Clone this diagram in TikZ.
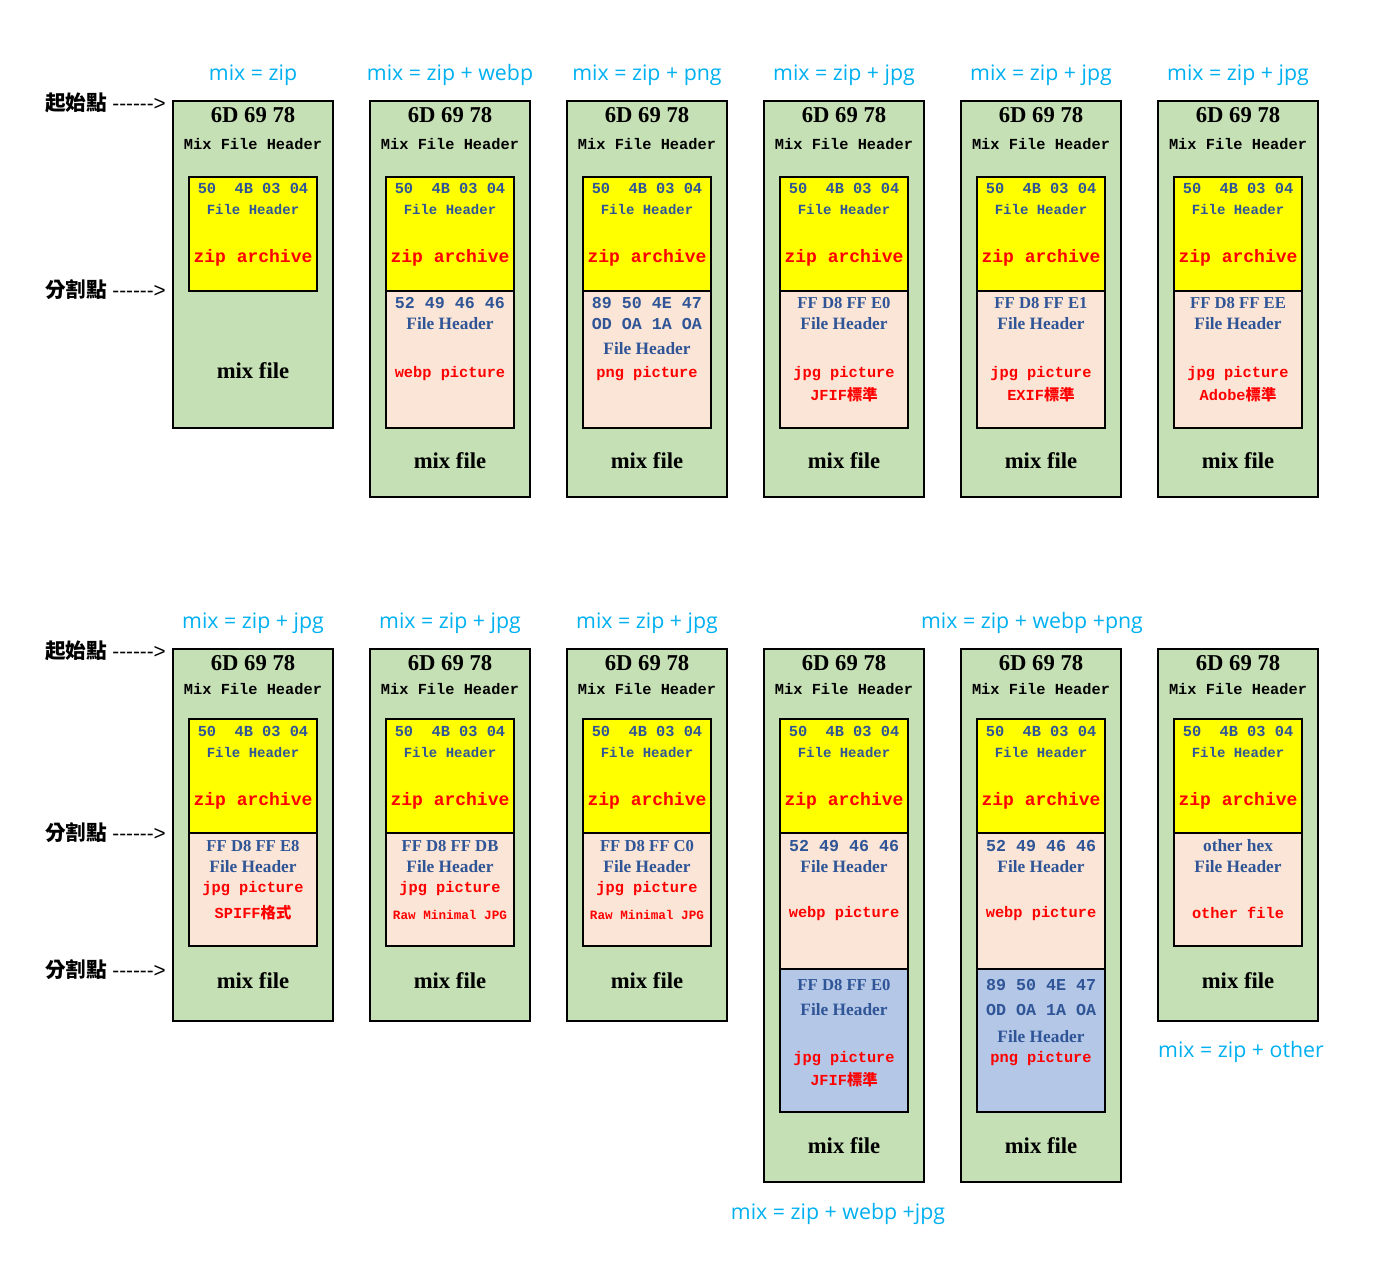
\documentclass[tikz,border=0pt]{standalone}
\usepackage{fontspec}
\setmainfont{Liberation Serif}
\setmonofont{Liberation Mono}
\setsansfont{Open Sans}
\newfontfamily\cjk{Noto Sans CJK TC}
\newfontfamily\dashfont{Liberation Sans}
\usepackage{tikz}

\definecolor{mixgreen}{HTML}{C5E0B4}
\definecolor{zipyellow}{HTML}{FFFF00}
\definecolor{picpink}{HTML}{FBE5D6}
\definecolor{picblue}{HTML}{B4C7E7}
\definecolor{hexblue}{HTML}{2F5597}
\definecolor{labelblue}{HTML}{00B0F0}

\tikzset{
    mixbox/.style={draw, line width=2.2pt, fill=mixgreen},
    zippart/.style={draw, line width=2.2pt, fill=zipyellow},
    pinkpart/.style={draw, line width=2.2pt, fill=picpink},
    bluepart/.style={draw, line width=2.2pt, fill=picblue},
    mixlabel/.style={text=labelblue, font=\sffamily\fontsize{16}{19}\selectfont},
    hextitle/.style={font=\bfseries\fontsize{17}{20}\selectfont},
    mixhead/.style={font=\ttfamily\bfseries\fontsize{11.5}{14}\selectfont},
    hexmono/.style={text=hexblue, font=\ttfamily\bfseries\fontsize{11.5}{14}\selectfont},
    hexwide/.style={text=hexblue, font=\ttfamily\bfseries\fontsize{12.5}{15}\selectfont},
    hexserif/.style={text=hexblue, font=\bfseries\fontsize{12.5}{15}\selectfont},
    fhmono/.style={text=hexblue, font=\ttfamily\bfseries\fontsize{10.5}{13}\selectfont},
    fhserif/.style={text=hexblue, font=\bfseries\fontsize{13}{15}\selectfont},
    zipname/.style={text=red, font=\ttfamily\bfseries\fontsize{13.5}{16}\selectfont},
    picname/.style={text=red, font=\ttfamily\bfseries\fontsize{11.5}{14}\selectfont},
    rawname/.style={text=red, font=\ttfamily\bfseries\fontsize{9.5}{11}\selectfont},
    mixfile/.style={font=\bfseries\fontsize{17}{20}\selectfont},
    pointtext/.style={anchor=west, inner sep=0pt, font=\fontsize{15.5}{18}\selectfont},
}

\begin{document}
\begin{tikzpicture}[x=0.75pt, y=-0.75pt]
    \useasboundingbox (0,0) rectangle (1399,1273);

    % top row
    \draw[mixbox] (173,101) rectangle (333,428);
    \foreach \x in {370,567,764,961,1158} {
        \draw[mixbox] (\x,101) rectangle ++(160,396);
        \draw[pinkpart] (\x+16,291) rectangle ++(128,137);
        \node[mixfile] at (\x+80,461) {mix file};
    }
    \foreach \x [count=\i] in {173,370,567,764,961,1158} {
        \draw[zippart] (\x+16,177) rectangle ++(128,114);
        \node[hextitle] (th\i) at (\x+80,115) {6D 69 78};
        \node[mixhead] (tm\i) at (\x+80,144) {Mix File Header};
        \node[hexmono] (tz\i) at (\x+80,188) {50~~4B 03 04};
        \node[fhmono] (tf\i) at (\x+80,209) {File Header};
        \node[zipname] (ta\i) at (\x+80,258) {zip archive};
    }
    \node[mixfile] (tmix1) at (253,371) {mix file};

    \node[mixlabel] (tl1) at (253,75) {mix = zip};
    \node[mixlabel] (tl2) at (450,75) {mix = zip + webp};
    \node[mixlabel] (tl3) at (647,75) {mix = zip + png};
    \node[mixlabel] (tl4) at (844,75) {mix = zip + jpg};
    \node[mixlabel] (tl5) at (1041,75) {mix = zip + jpg};
    \node[mixlabel] (tl6) at (1238,75) {mix = zip + jpg};

    \node[hexwide] (tp2a) at (450,303) {52 49 46 46};
    \node[fhserif] (tp2b) at (450,324) {File Header};
    \node[picname] (tp2c) at (450,374) {webp picture};

    \node[hexwide] (tp3a) at (647,303) {89 50 4E 47};
    \node[hexwide] (tp3b) at (647,324) {OD OA~1A OA};
    \node[fhserif] (tp3c) at (647,349) {File Header};
    \node[picname] (tp3d) at (647,374) {png picture};

    \node[hexserif] (tp4a) at (844,303) {FF D8 FF E0};
    \node[fhserif] (tp4b) at (844,324) {File Header};
    \node[picname] (tp4c) at (844,374) {jpg picture};
    \node[picname] (tp4d) at (844,395) {JFIF{\cjk\bfseries 標準}};

    \node[hexserif] (tp5a) at (1041,303) {FF D8 FF E1};
    \node[fhserif] (tp5b) at (1041,324) {File Header};
    \node[picname] (tp5c) at (1041,374) {jpg picture};
    \node[picname] (tp5d) at (1041,395) {EXIF{\cjk\bfseries 標準}};

    \node[hexserif] (tp6a) at (1238,303) {FF D8 FF EE};
    \node[fhserif] (tp6b) at (1238,324) {File Header};
    \node[picname] (tp6c) at (1238,374) {jpg picture};
    \node[picname] (tp6d) at (1238,395) {Adobe{\cjk\bfseries 標準}};

    \node[pointtext] (start1) at (45,103) {{\cjk\bfseries 起始點} {\dashfont ------>}};
    \node[pointtext] (split1) at (45,290) {{\cjk\bfseries 分割點} {\dashfont ------>}};

    % bottom row
    \foreach \x in {173,370,567,1158} {
        \draw[mixbox] (\x,649) rectangle ++(160,372);
        \draw[pinkpart] (\x+16,833) rectangle ++(128,113);
        \node[mixfile] at (\x+80,981) {mix file};
    }
    \foreach \x in {764,961} {
        \draw[mixbox] (\x,649) rectangle ++(160,533);
        \draw[pinkpart] (\x+16,833) rectangle ++(128,136);
        \draw[bluepart] (\x+16,969) rectangle ++(128,143);
        \node[mixfile] at (\x+80,1146) {mix file};
        \node[hexwide] at (\x+80,846) {52 49 46 46};
        \node[fhserif] at (\x+80,867) {File Header};
        \node[picname] at (\x+80,914) {webp picture};
    }
    \foreach \x [count=\i] in {173,370,567,764,961,1158} {
        \draw[zippart] (\x+16,719) rectangle ++(128,114);
        \node[hextitle] (bh\i) at (\x+80,663) {6D 69 78};
        \node[mixhead] (bm\i) at (\x+80,689) {Mix File Header};
        \node[hexmono] (bz\i) at (\x+80,731) {50~~4B 03 04};
        \node[fhmono] (bf\i) at (\x+80,752) {File Header};
        \node[zipname] (ba\i) at (\x+80,801) {zip archive};
    }

    \node[mixlabel] (bl1) at (253,623) {mix = zip + jpg};
    \node[mixlabel] (bl2) at (450,623) {mix = zip + jpg};
    \node[mixlabel] (bl3) at (647,623) {mix = zip + jpg};
    \node[mixlabel] (bl45) at (1032,623) {mix = zip + webp +png};
    \node[mixlabel] (bl4) at (838,1214) {mix = zip + webp +jpg};
    \node[mixlabel] (bl6) at (1241,1052) {mix = zip + other};

    \node[hexserif] (bp1a) at (253,846) {FF D8 FF E8};
    \node[fhserif] (bp1b) at (253,867) {File Header};
    \node[picname] (bp1c) at (253,889) {jpg picture};
    \node[picname] (bp1d) at (253,913) {SPIFF{\cjk\bfseries 格式}};

    \node[hexserif] (bp2a) at (450,846) {FF D8 FF DB};
    \node[fhserif] (bp2b) at (450,867) {File Header};
    \node[picname] (bp2c) at (450,889) {jpg picture};
    \node[rawname] (bp2d) at (450,915) {Raw Minimal JPG};

    \node[hexserif] (bp3a) at (647,846) {FF D8 FF C0};
    \node[fhserif] (bp3b) at (647,867) {File Header};
    \node[picname] (bp3c) at (647,889) {jpg picture};
    \node[rawname] (bp3d) at (647,915) {Raw Minimal JPG};

    \node[hexserif] (bq4a) at (844,985) {FF D8 FF E0};
    \node[fhserif] (bq4b) at (844,1010) {File Header};
    \node[picname] (bq4c) at (844,1059) {jpg picture};
    \node[picname] (bq4d) at (844,1080) {JFIF{\cjk\bfseries 標準}};

    \node[hexwide] (bq5a) at (1041,985) {89 50 4E 47};
    \node[hexwide] (bq5b) at (1041,1010) {OD OA~1A OA};
    \node[fhserif] (bq5c) at (1041,1037) {File Header};
    \node[picname] (bq5d) at (1041,1059) {png picture};

    \node[fhserif] (bp6a) at (1238,846) {other hex};
    \node[fhserif] (bp6b) at (1238,867) {File Header};
    \node[picname] (bp6c) at (1238,913) {other file};

    \node[pointtext] (start2) at (45,651) {{\cjk\bfseries 起始點} {\dashfont ------>}};
    \node[pointtext] (split2) at (45,833) {{\cjk\bfseries 分割點} {\dashfont ------>}};
    \node[pointtext] (split3) at (45,970) {{\cjk\bfseries 分割點} {\dashfont ------>}};
\end{tikzpicture}
\end{document}
